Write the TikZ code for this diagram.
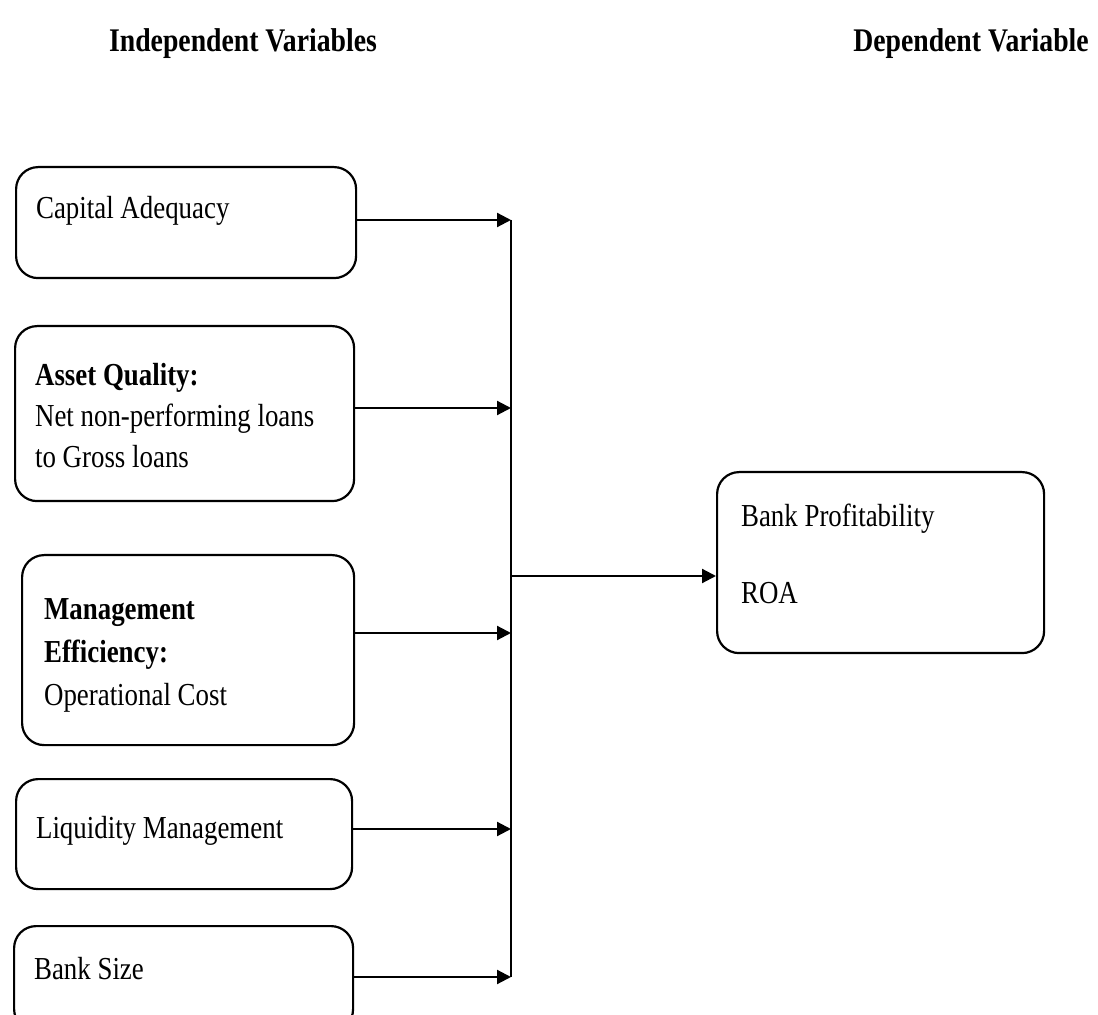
\documentclass[tikz,border=0pt]{standalone}
\usepackage{fontspec}
\setmainfont{Liberation Serif}[FakeStretch=0.84]
\usetikzlibrary{arrows.meta}

\begin{document}
\begin{tikzpicture}[x=0.5pt, y=-0.5pt,
  font=\fontsize{16}{20.5}\selectfont,
  varbox/.style={draw, line width=1.1pt, rounded corners=11pt, anchor=north west,
    align=flush left, inner xsep=10pt, inner ysep=0pt},
  link/.style={line width=1.1pt, -{Triangle[length=7pt,width=7pt]}}]

\useasboundingbox (0,0) rectangle (1098,1015);

% Headings
\node[font=\fontsize{16.5}{18}\selectfont\bfseries, anchor=base] (indep) at (243,52) {Independent Variables};
\node[font=\fontsize{16.5}{18}\selectfont\bfseries, anchor=base] (dep) at (971,52) {Dependent Variable};

% Independent variables (left column)
\node[varbox, text width=150pt, text height=25.5pt, text depth=30pt] (capital) at (15,166) {Capital Adequacy};
\node[varbox, text width=149.5pt, text height=29.5pt, text depth=58pt] (asset) at (14,325)
  {\textbf{Asset Quality:}\\ Net non-performing loans\\ to Gross loans};
\node[varbox, inner xsep=11pt, text width=144pt, text height=32pt, text depth=63pt] (manage) at (21,554)
  {\textbf{Management}\\[1pt] \textbf{Efficiency:}\\[1pt] Operational Cost};
\node[varbox, text width=148pt, text height=29.5pt, text depth=25.5pt] (liquid) at (15,778) {Liquidity Management};
\node[varbox, text width=149.5pt, text height=26.5pt, text depth=26pt] (size) at (13,925) {Bank Size};

% Dependent variable
\node[varbox, inner xsep=12pt, text width=139.5pt, text height=27pt, text depth=63.5pt] (profit) at (716,471)
  {Bank Profitability\\[18pt] ROA};

% Arrows into the collecting line
\foreach \src/\yy in {capital/220, asset/408, manage/633, liquid/829, size/977} {
  \coordinate (j\src) at (511,\yy);
  \draw[link] (\src.east |- j\src) -- (j\src);
}

% Collecting line and arrow to the dependent variable
\draw[line width=1.1pt] (jcapital) -- (jsize);
\coordinate (jout) at (511,576);
\draw[link] (jout) -- (profit.west |- jout);

\end{tikzpicture}
\end{document}
